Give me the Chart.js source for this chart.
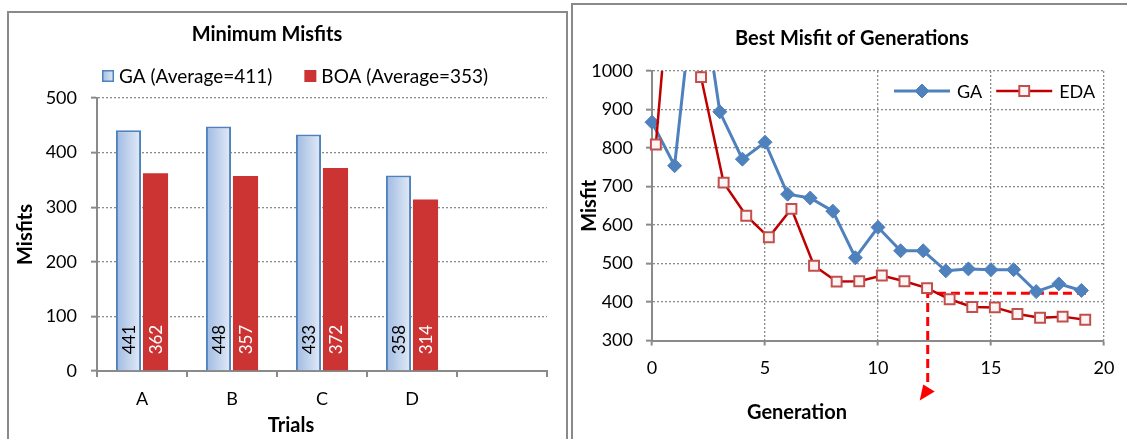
<!DOCTYPE html>
<html>
<head>
<meta charset="utf-8">
<script src="https://cdn.jsdelivr.net/npm/chart.js@4.4.1/dist/chart.umd.min.js"></script>
<style>
  html, body { margin: 0; padding: 0; background: #fff; overflow: hidden; }
  .frame { position: absolute; border: 2px solid #8a8a8a; background: #fff; }
  #leftFrame { left: 7px; top: 11px; width: 557px; height: 460px; }
  #rightFrame { left: 571px; top: 3px; width: 570px; height: 470px; }
  canvas { display: block; }
</style>
</head>
<body>
<div class="frame" id="leftFrame"><canvas id="misfitBars" width="557" height="428"></canvas></div>
<div class="frame" id="rightFrame"><canvas id="genLines" width="556" height="436"></canvas></div>
<script>
'use strict';

// left chart: minimum misfit per trial
const trials = ['A', 'B', 'C', 'D', ''];
const gaMin = [441, 448, 433, 358];
const boaMin = [362, 357, 372, 314];
const gaBarLabel = 'GA (Average=411)';
const boaBarLabel = 'BOA (Average=353)';
const misfitMin = 0;
const misfitMax = 500;

// right chart: best misfit of each generation
const gaGen = [0, 1, 2, 3, 4, 5, 6, 7, 8, 9, 10, 11, 12, 13, 14, 15, 16, 17, 18, 19];
const gaBest = [867, 754, 1290, 894, 771, 815, 680, 670, 636, 515, 594, 533, 533, 481, 486, 484, 484, 427, 447, 430];
const edaGen = [0.17, 1.17, 2.17, 3.17, 4.17, 5.17, 6.17, 7.17, 8.17, 9.17, 10.17, 11.17, 12.17, 13.17, 14.17, 15.17, 16.17, 17.17, 18.17, 19.17];
const edaBest = [809, 1500, 984, 710, 624, 568, 642, 494, 453, 454, 469, 454, 436, 407, 387, 386, 369, 359, 362, 354];
const genMin = 0;
const genMax = 20;
const bestMin = 300;
const bestMax = 1000;

// dashed marker: level reached and where it points on the generation axis
const markGen = 12.2;
const markEndGen = 19.2;
const markLevel = 423;
const arrowEndLevel = 183;

const FONT = 'Lato';
const AXIS_GREY = '#8a8a8a';
const GRID_GREY = '#8c8c8c';
const GA_BLUE = '#4F81BD';
const BOA_RED = '#CC3333';
const EDA_RED = '#C00000';

Chart.defaults.font.family = FONT;
Chart.defaults.color = '#000';

const plainNumber = (v) => String(v);

function gaFill(ctx, x0, x1) {
  const g = ctx.createLinearGradient(x0, 0, x1, 0);
  g.addColorStop(0, '#9FBAE2');
  g.addColorStop(1, '#E3EBF7');
  return g;
}

function putText(ctx, text, x, y, font, align, rotate) {
  ctx.save();
  ctx.font = font;
  ctx.fillStyle = '#000';
  ctx.textAlign = align || 'center';
  ctx.textBaseline = 'middle';
  ctx.translate(x, y);
  if (rotate) ctx.rotate(rotate);
  ctx.fillText(text, 0, 0);
  ctx.restore();
}

// ---------- left chart ----------
const gaGradient = {
  id: 'gaGradient',
  beforeDatasetsDraw(chart) {
    const ctx = chart.ctx;
    chart.getDatasetMeta(0).data.forEach((bar) => {
      const fill = gaFill(ctx, bar.x - bar.width / 2, bar.x + bar.width / 2);
      bar.options = Object.assign({}, bar.options, { backgroundColor: fill });
    });
  },
};

const barValues = {
  id: 'barValues',
  afterDatasetsDraw(chart) {
    const ctx = chart.ctx;
    chart.data.datasets.forEach((ds, di) => {
      chart.getDatasetMeta(di).data.forEach((bar, i) => {
        ctx.save();
        ctx.translate(bar.x, bar.base - 16);
        ctx.rotate(-Math.PI / 2);
        ctx.font = '17px ' + FONT;
        ctx.fillStyle = ds.valueColor;
        ctx.textAlign = 'left';
        ctx.textBaseline = 'middle';
        ctx.fillText(String(ds.data[i]), 0, 1);
        ctx.restore();
      });
    });
  },
};

const leftText = {
  id: 'leftText',
  afterDraw(chart) {
    const ctx = chart.ctx;
    const a = chart.chartArea;
    putText(ctx, 'Minimum Misfits', 258, 22, 'bold 20px ' + FONT);
    putText(ctx, 'Trials', 282, 413, 'bold 20px ' + FONT);
    putText(ctx, 'Misfits', 17, (a.top + a.bottom) / 2, 'bold 20px ' + FONT, 'center', -Math.PI / 2);

    // legend
    const y = 63;
    let x = 93;
    ctx.save();
    ctx.font = '19px ' + FONT;
    chart.data.datasets.forEach((ds, i) => {
      if (i === 0) {
        ctx.fillStyle = gaFill(ctx, x, x + 12);
        ctx.fillRect(x, y - 6, 12, 12);
        ctx.strokeStyle = GA_BLUE;
        ctx.lineWidth = 1.5;
        ctx.strokeRect(x + 0.75, y - 5.25, 10.5, 10.5);
      } else {
        ctx.fillStyle = BOA_RED;
        ctx.fillRect(x, y - 6, 12, 12);
      }
      putText(ctx, ds.label, x + 17, y + 1, '19px ' + FONT, 'left');
      x += 17 + ctx.measureText(ds.label).width + 32;
    });
    ctx.restore();
  },
};

new Chart(document.getElementById('misfitBars'), {
  type: 'bar',
  data: {
    labels: trials,
    datasets: [
      {
        label: gaBarLabel,
        data: gaMin,
        backgroundColor: '#C3D4EE',
        borderColor: GA_BLUE,
        borderWidth: 2,
        valueColor: '#000',
      },
      {
        label: boaBarLabel,
        data: boaMin,
        backgroundColor: BOA_RED,
        borderWidth: 0,
        valueColor: '#fff',
      },
    ],
  },
  options: {
    responsive: false,
    animation: false,
    datasets: { bar: { categoryPercentage: 0.6, barPercentage: 0.93 } },
    layout: { padding: { left: 0, right: 19, top: 85, bottom: 0 } },
    plugins: { legend: { display: false }, tooltip: { enabled: false } },
    scales: {
      x: {
        grid: { offset: true, drawOnChartArea: false, drawTicks: true, tickLength: 6, color: AXIS_GREY, lineWidth: 2 },
        border: { display: true, color: AXIS_GREY, width: 2 },
        ticks: { font: { size: 18 }, padding: 11 },
        afterFit: (s) => { s.height = 70; },
      },
      y: {
        min: misfitMin,
        max: misfitMax,
        grid: { color: GRID_GREY, lineWidth: 1.3, tickLength: 6, tickColor: AXIS_GREY, tickWidth: 2 },
        border: { display: true, color: AXIS_GREY, width: 2, dash: [2, 2] },
        ticks: { stepSize: 100, font: { size: 18 }, padding: 14, callback: plainNumber },
        afterFit: (s) => { s.width = 88; },
      },
    },
  },
  plugins: [gaGradient, barValues, leftText],
});

// ---------- right chart ----------
const markArrow = {
  id: 'markArrow',
  beforeDatasetsDraw(chart) {
    const { ctx, scales: { x, y } } = chart;
    const x0 = x.getPixelForValue(markGen);
    const x1 = x.getPixelForValue(markEndGen);
    const yl = y.getPixelForValue(markLevel);
    const ye = y.getPixelForValue(arrowEndLevel);
    ctx.save();
    ctx.strokeStyle = '#FF0000';
    ctx.fillStyle = '#FF0000';
    ctx.lineWidth = 3;
    ctx.setLineDash([9, 5]);
    ctx.beginPath();
    ctx.moveTo(x1, yl);
    ctx.lineTo(x0, yl);
    ctx.lineTo(x0, ye);
    ctx.stroke();
    ctx.setLineDash([]);
    ctx.beginPath();
    ctx.moveTo(x0 - 4.5, ye - 1);
    ctx.lineTo(x0 + 7, ye + 6);
    ctx.lineTo(x0 - 8, ye + 15);
    ctx.closePath();
    ctx.fill();
    ctx.restore();
  },
};

function drawMarker(ctx, ds, cx, cy) {
  ctx.save();
  ctx.fillStyle = ds.pointBackgroundColor;
  ctx.strokeStyle = ds.pointBorderColor;
  ctx.lineWidth = ds.pointBorderWidth;
  ctx.beginPath();
  if (ds.pointStyle === 'rectRot') {
    const r = ds.pointRadius;
    ctx.moveTo(cx, cy - r);
    ctx.lineTo(cx + r, cy);
    ctx.lineTo(cx, cy + r);
    ctx.lineTo(cx - r, cy);
    ctx.closePath();
  } else {
    const h = ds.pointRadius * Math.SQRT1_2;
    ctx.rect(cx - h, cy - h, 2 * h, 2 * h);
  }
  ctx.fill();
  ctx.stroke();
  ctx.restore();
}

const rightText = {
  id: 'rightText',
  afterDraw(chart) {
    const ctx = chart.ctx;
    const a = chart.chartArea;
    putText(ctx, 'Best Misfit of Generations', 279, 34, 'bold 20px ' + FONT);
    putText(ctx, 'Generation', 224, 408, 'bold 20px ' + FONT);
    putText(ctx, 'Misfit', 16.5, (a.top + a.bottom) / 2, 'bold 20px ' + FONT, 'center', -Math.PI / 2);

    // legend: line sample with marker
    const y = a.top + 20;
    let x = a.right - 210;
    ctx.save();
    ctx.font = '18px ' + FONT;
    chart.data.datasets.forEach((ds) => {
      const len = 56;
      ctx.strokeStyle = ds.borderColor;
      ctx.lineWidth = ds.borderWidth;
      ctx.beginPath();
      ctx.moveTo(x, y);
      ctx.lineTo(x + len, y);
      ctx.stroke();
      drawMarker(ctx, ds, x + len / 2, y);
      putText(ctx, ds.label, x + len + 7, y + 1, '18px ' + FONT, 'left');
      x += len + 7 + ctx.measureText(ds.label).width + 14;
    });
    ctx.restore();
  },
};

const lineClip = { left: 12, top: 0, right: 12, bottom: 12 };

new Chart(document.getElementById('genLines'), {
  type: 'line',
  data: {
    datasets: [
      {
        label: 'GA',
        data: gaGen.map((g, i) => ({ x: g, y: gaBest[i] })),
        borderColor: GA_BLUE,
        borderWidth: 3,
        pointStyle: 'rectRot',
        pointRadius: 7,
        pointBorderWidth: 1,
        pointBackgroundColor: GA_BLUE,
        pointBorderColor: GA_BLUE,
        clip: lineClip,
        order: 2,
      },
      {
        label: 'EDA',
        data: edaGen.map((g, i) => ({ x: g, y: edaBest[i] })),
        borderColor: EDA_RED,
        borderWidth: 2.5,
        pointStyle: 'rect',
        pointRadius: 7,
        pointBorderWidth: 2,
        pointBackgroundColor: '#FFF4F4',
        pointBorderColor: '#C0504D',
        clip: lineClip,
        order: 1,
      },
    ],
  },
  options: {
    responsive: false,
    animation: false,
    layout: { padding: { left: 0, right: 25, top: 66, bottom: 0 } },
    plugins: { legend: { display: false }, tooltip: { enabled: false } },
    scales: {
      x: {
        type: 'linear',
        min: genMin,
        max: genMax,
        grid: { color: GRID_GREY, lineWidth: 1.3, tickLength: 5, tickColor: AXIS_GREY, tickWidth: 2 },
        border: { display: true, color: AXIS_GREY, width: 2, dash: [2, 2] },
        ticks: { stepSize: 5, font: { size: 18 }, padding: 12, callback: plainNumber },
        afterFit: (s) => { s.height = 100.5; },
      },
      y: {
        min: bestMin,
        max: bestMax,
        grid: { color: GRID_GREY, lineWidth: 1.3, tickLength: 6, tickColor: AXIS_GREY, tickWidth: 2 },
        border: { display: true, color: AXIS_GREY, width: 2, dash: [2, 2] },
        ticks: { stepSize: 100, font: { size: 18 }, padding: 13, callback: plainNumber },
        afterFit: (s) => { s.width = 79; },
      },
    },
  },
  plugins: [markArrow, rightText],
});
</script>
</body>
</html>
